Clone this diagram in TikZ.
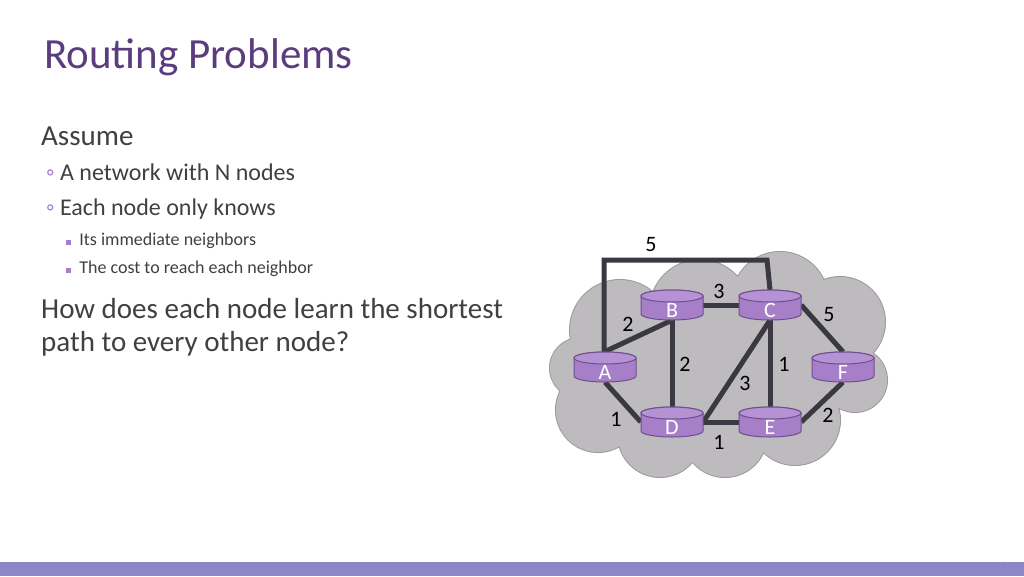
\documentclass[tikz,border=0pt]{standalone}
\usepackage{fontspec}
\setmainfont{Carlito}
\definecolor{ttl}{HTML}{5B3C7E}
\definecolor{txt}{HTML}{404040}
\definecolor{nodef}{HTML}{A77FC8}
\definecolor{nodet}{HTML}{B592D3}
\definecolor{noded}{HTML}{6E4E8E}
\definecolor{cl}{HTML}{BDBBBE}
\definecolor{cle}{HTML}{9C9A9D}
\definecolor{ln}{HTML}{3A3840}
\definecolor{bar}{HTML}{8D86C9}
\tikzset{
 rtr/.style={rectangle, minimum width=62pt, minimum height=30pt, inner sep=0pt},
 lbl/.style={text=white, font=\fontsize{22}{22}\selectfont, inner sep=0pt},
 lnk/.style={draw=ln, line width=5pt},
 wt/.style={font=\fontsize{22}{22}\selectfont, text=black},
}
\newcommand\mycyl[4]{%
 \fill[nodef,draw=noded,line width=1pt] (#1-31,#2-9) -- (#1-31,#2+9) arc[start angle=180,end angle=0,x radius=31,y radius=6] -- (#1+31,#2-9) arc[start angle=0,end angle=-180,x radius=31,y radius=6] -- cycle;
 \draw[noded,fill=nodet,line width=1pt] (#1,#2-9) ellipse[x radius=31,y radius=6];
 \node[lbl] (#3l) at (#1,#2+5) {#4};}
\begin{document}
\begin{tikzpicture}[x=1pt,y=-1pt]
\useasboundingbox (0,0) rectangle (1024,576);
\fill[white] (0,0) rectangle (1024,576);
\fill[bar] (0,562) rectangle (1024,576);
\node[anchor=base west, text=ttl, font=\fontsize{43}{43}\selectfont, inner sep=0] (title) at (44,68) {Routing Problems};
\node[anchor=base west, text=txt, font=\fontsize{29}{29}\selectfont, inner sep=0] (as) at (41,145) {Assume};
\node[anchor=base west, text=txt, font=\fontsize{24}{24}\selectfont, inner sep=0] (b1) at (46,180) {\textcolor{nodef}{◦}\ A network with N nodes};
\node[anchor=base west, text=txt, font=\fontsize{24}{24}\selectfont, inner sep=0] (b2) at (46,215) {\textcolor{nodef}{◦}\ Each node only knows};
\node[anchor=base west, text=txt, font=\fontsize{18}{18}\selectfont, inner sep=0] (s1) at (66,245) {\textcolor{nodef}{\rule{5pt}{5pt}}\ \ Its immediate neighbors};
\node[anchor=base west, text=txt, font=\fontsize{18}{18}\selectfont, inner sep=0] (s2) at (66,273) {\textcolor{nodef}{\rule{5pt}{5pt}}\ \ The cost to reach each neighbor};
\node[anchor=base west, text=txt, font=\fontsize{29}{29}\selectfont, inner sep=0] (q1) at (41,318) {How does each node learn the shortest};
\node[anchor=base west, text=txt, font=\fontsize{29}{29}\selectfont, inner sep=0] (q2) at (41,351) {path to every other node?};
% cloud
\def\cloudcircles{(620,330) circle (50) (598,410) circle (42) (660,435) circle (42) (725,435) circle (42) (795,420) circle (45) (840,322) circle (45) (780,300) circle (48) (700,310) circle (50) (855,380) circle (32) (580,368) circle (30) (730,370) circle (60) (665,380) circle (40) (805,370) circle (35)}
\draw[cle, line width=2pt] \cloudcircles;
\fill[cl] \cloudcircles;
% nodes (anchors)
\node[rtr] (A) at (605,367) {};
\node[rtr] (B) at (672,305) {};
\node[rtr] (C) at (770,305) {};
\node[rtr] (D) at (672,422) {};
\node[rtr] (E) at (770,422) {};
\node[rtr] (F) at (843,367) {};
\coordinate (a1) at (604,352);
\draw[lnk] (a1) -- (604,260) -- (767,260) -- (C.north);
\draw[lnk] (a1) -- (B.south);
\draw[lnk] (B.east) -- (C.west);
\draw[lnk] (B.south) -- (D.north);
\draw[lnk] (C.south) -- (D.east);
\draw[lnk] (C.south) -- (E.north);
\draw[lnk] (C.east) -- (F.north);
\draw[lnk] (E.east) -- (F.south);
\draw[lnk] (A.south) -- (D.west);
\draw[lnk] (D.east) -- (E.west);
\mycyl{605}{367}{A}{A}
\mycyl{672}{305}{B}{B}
\mycyl{770}{305}{C}{C}
\mycyl{672}{422}{D}{D}
\mycyl{770}{422}{E}{E}
\mycyl{843}{367}{F}{F}
\node[wt] (w1) at (651,245) {5};
\node[wt] (w2) at (719,291) {3};
\node[wt] (w3) at (628,324) {2};
\node[wt] (w4) at (829,315) {5};
\node[wt] (w5) at (685,364) {2};
\node[wt] (w6) at (784,364) {1};
\node[wt] (w7) at (745,383) {3};
\node[wt] (w8) at (616,419) {1};
\node[wt] (w9) at (828,415) {2};
\node[wt] (w10) at (719,442) {1};
\node[font=\fontsize{5}{5}\selectfont, text=gray] (pg) at (1003,567) {3};
\end{tikzpicture}
\end{document}
